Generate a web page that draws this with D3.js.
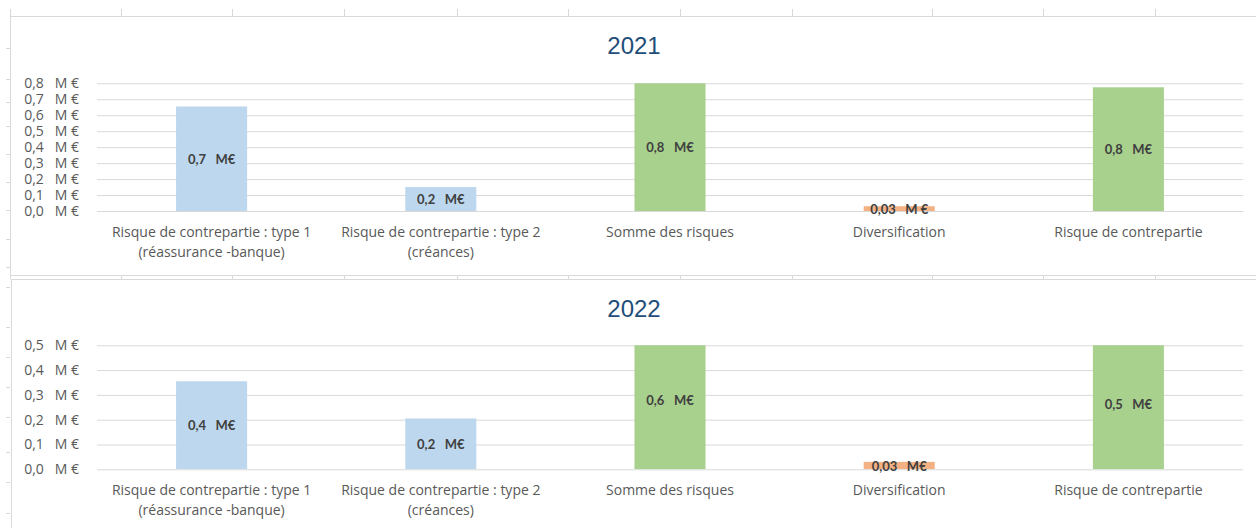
<!DOCTYPE html>
<html>
<head>
<meta charset="utf-8">
<script src="https://cdn.jsdelivr.net/npm/d3@7"></script>
<style>
  body { margin: 0; background: #fff; }
  text { font-family: "Open Sans", Lato, sans-serif; }
</style>
</head>
<body>
<div id="chart"></div>
<script>
// categories, two lines max each
var categories = [
    ["Risque de contrepartie : type 1", "(réassurance -banque)"],
    ["Risque de contrepartie : type 2", "(créances)"],
    ["Somme des risques"],
    ["Diversification"],
    ["Risque de contrepartie"]
];
var kinds = ["detail", "detail", "total", "diversif", "total"];

var values2021 = [0.655, 0.15, 0.805, 0.03, 0.775];
var labels2021 = ["0,7   M€", "0,2   M€", "0,8   M€", "0,03   M €", "0,8   M€"];
var ticks2021 = [0, 0.1, 0.2, 0.3, 0.4, 0.5, 0.6, 0.7, 0.8];

var values2022 = [0.355, 0.205, 0.56, 0.03, 0.53];
var labels2022 = ["0,4   M€", "0,2   M€", "0,6   M€", "0,03   M€", "0,5   M€"];
var ticks2022 = [0, 0.1, 0.2, 0.3, 0.4, 0.5];

// spreadsheet cells behind the charts
var sheetCols = [10, 121, 232, 344, 457, 568, 680, 792, 932, 1043, 1155];
var sheetRows = [48, 79, 102, 126, 154, 182, 210, 239, 267, 287, 327, 357, 387, 417, 452, 482, 513];

var colors = { detail: "#BDD7EE", total: "#A9D18E", diversif: "#F4B183" };

var width = 1256,
    height = 528;

var svg = d3.select("#chart").append("svg")
    .attr("width", width)
    .attr("height", height);

var gridColor = "#D9D9D9";

// sheet ticks
svg.selectAll(".colTick").data(sheetCols).enter().append("line")
    .attr("x1", function(d){ return d + 0.5; })
    .attr("x2", function(d){ return d + 0.5; })
    .attr("y1", 9).attr("y2", 16)
    .attr("stroke", gridColor);
svg.selectAll(".colTick2").data(sheetCols).enter().append("line")
    .attr("x1", function(d){ return d + 0.5; })
    .attr("x2", function(d){ return d + 0.5; })
    .attr("y1", 276).attr("y2", 279)
    .attr("stroke", gridColor);
svg.selectAll(".rowTick").data(sheetRows).enter().append("line")
    .attr("x1", 6).attr("x2", 10)
    .attr("y1", function(d){ return d + 0.5; })
    .attr("y2", function(d){ return d + 0.5; })
    .attr("stroke", gridColor);

var x = d3.scaleBand()
    .domain(d3.range(categories.length))
    .range([97, 1243])
    .paddingInner(0.69)
    .paddingOuter(0.345);

var drawChart = function(cfg, values, labels, ticks, idx) {
    var g = svg.append("g");

    g.append("rect")
        .attr("x", cfg.left + 0.5)
        .attr("y", cfg.top + 0.5)
        .attr("width", width + 20)
        .attr("height", cfg.boxHeight)
        .attr("fill", "#fff")
        .attr("stroke", gridColor);

    g.append("text")
        .attr("x", 634)
        .attr("y", cfg.top + 38)
        .attr("text-anchor", "middle")
        .style("font-family", "'Liberation Sans', Arial, sans-serif")
        .style("font-size", "24px")
        .attr("fill", "#1F4E79")
        .text(cfg.title);

    var y = d3.scaleLinear()
        .domain([0, d3.max(ticks)])
        .range([cfg.plotBottom, cfg.plotTop]);

    // gridlines
    var grid = g.append("g")
        .attr("transform", "translate(97,0)")
        .call(d3.axisLeft(y).tickValues(ticks).tickSize(-(1243 - 97)).tickFormat(""));
    grid.select(".domain").remove();
    grid.selectAll("line").attr("stroke", gridColor);

    // tick labels
    var ax = g.append("g")
        .attr("transform", "translate(79,0)")
        .call(d3.axisLeft(y).tickValues(ticks).tickSize(0).tickPadding(0)
            .tickFormat(function(d){ return d3.format(".1f")(d).replace(".", ",") + "   M €"; }));
    ax.select(".domain").remove();
    ax.selectAll("text")
        .style("font-family", "'Open Sans', sans-serif")
        .style("font-size", "14px")
        .style("white-space", "pre")
        .attr("fill", "#595959");

    var clipId = "clip" + idx;
    g.append("clipPath").attr("id", clipId)
        .append("rect")
        .attr("x", 97).attr("y", cfg.plotTop)
        .attr("width", 1243 - 97).attr("height", cfg.plotBottom - cfg.plotTop);

    g.append("g").attr("clip-path", "url(#" + clipId + ")")
        .selectAll("rect").data(values).enter().append("rect")
        .attr("x", function(d, i){ return x(i); })
        .attr("width", x.bandwidth())
        .attr("y", function(d){ return y(d); })
        .attr("height", function(d){ return y(0) - y(d); })
        .attr("fill", function(d, i){ return colors[kinds[i]]; });

    // data labels, centred on the full bar
    g.selectAll(".lbl").data(values).enter().append("text")
        .attr("x", function(d, i){ return x(i) + x.bandwidth() / 2; })
        .attr("y", function(d){ return (y(0) + y(d)) / 2 + 5; })
        .attr("text-anchor", "middle")
        .style("font-family", "Lato, sans-serif")
        .style("font-size", "13px")
        .style("font-weight", "bold")
        .style("white-space", "pre")
        .attr("fill", "#404040")
        .text(function(d, i){ return labels[i]; });

    // category labels
    var cat = g.selectAll(".cat").data(categories).enter().append("text")
        .attr("text-anchor", "middle")
        .style("font-size", "14px")
        .attr("fill", "#595959");
    cat.each(function(lines, i) {
        var t = d3.select(this);
        lines.forEach(function(line, j) {
            t.append("tspan")
                .attr("x", x(i) + x.bandwidth() / 2)
                .attr("y", cfg.plotBottom + 26 + j * 20)
                .text(line);
        });
    });
};

drawChart({ title: "2021", left: 10, top: 16, boxHeight: 259, plotTop: 83.3, plotBottom: 211 },
    values2021, labels2021, ticks2021, 1);
drawChart({ title: "2022", left: 11, top: 279, boxHeight: 300, plotTop: 345.3, plotBottom: 469.3 },
    values2022, labels2022, ticks2022, 2);
</script>
</body>
</html>
